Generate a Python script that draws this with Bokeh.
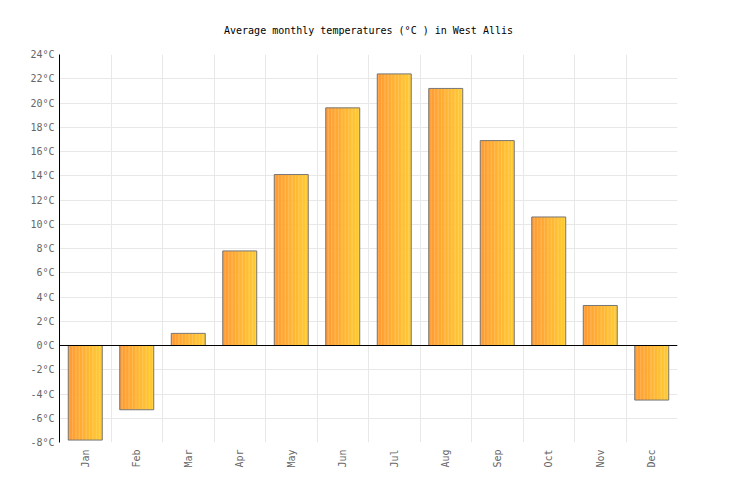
from bokeh.plotting import figure
from bokeh.models import FixedTicker, PrintfTickFormatter, Span, Grid, ColumnDataSource
from bokeh.transform import dodge
from bokeh.embed import file_html
from bokeh.resources import INLINE
import numpy as np

months = ["Jan", "Feb", "Mar", "Apr", "May", "Jun", "Jul", "Aug", "Sep", "Oct", "Nov", "Dec"]
temps = [-7.8, -5.3, 1.0, 7.8, 14.1, 19.6, 22.4, 21.2, 16.9, 10.6, 3.3, -4.5]
y_ticks = list(range(-8, 26, 2))

FONT = "DejaVu Sans Mono"

p = figure(width=736, height=500, x_range=months, y_range=(-8, 24),
           output_backend="svg", toolbar_location=None,
           title="Average monthly temperatures (°C ) in West Allis",
           min_border_left=59, min_border_right=59, min_border_top=54, min_border_bottom=58)
p.x_range.range_padding = 0
p.title.align = "center"
p.title.text_font = FONT
p.title.text_font_size = "10px"
p.title.text_font_style = "normal"
p.title.text_color = "#000000"
p.title.standoff = 38
p.outline_line_color = None

source = ColumnDataSource(dict(month=months, temp=temps))

# gradient approximation with narrow stripes
bar_w = 0.66
n = 24
c0 = np.array([0xFF, 0x99, 0x33])
c1 = np.array([0xFF, 0xCC, 0x33])
sw = bar_w / n
for i in range(n):
    t = (i + 0.5) / n
    c = (c0 + (c1 - c0) * t).round().astype(int)
    col = "#%02x%02x%02x" % tuple(c)
    off = -bar_w / 2 + sw * (i + 0.5)
    p.vbar(x=dodge("month", off, range=p.x_range), top="temp", bottom=0, width=sw * 1.15,
           source=source, fill_color=col, line_color=None)
p.vbar(x="month", top="temp", bottom=0, width=bar_w, source=source,
       fill_color=None, line_color="#777777", line_width=1)

p.add_layout(Span(location=0, dimension="width", line_color="#000000", line_width=1))

# grids
p.xgrid.visible = False
p.ygrid.ticker = FixedTicker(ticks=y_ticks)
p.ygrid.grid_line_color = "#e8e8e8"
vg = Grid(dimension=0, ticker=FixedTicker(ticks=list(range(0, len(months) + 1))),
          grid_line_color="#e8e8e8")
p.add_layout(vg)

p.yaxis.ticker = FixedTicker(ticks=y_ticks)
p.yaxis.formatter = PrintfTickFormatter(format="%d°C")
p.yaxis.axis_line_color = "#000000"
p.yaxis.major_tick_line_color = None
p.yaxis.minor_tick_line_color = None
p.yaxis.major_tick_out = 0
p.yaxis.major_label_standoff = 5
p.xaxis.axis_line_color = None
p.xaxis.major_tick_line_color = None
p.xaxis.major_tick_out = 0
p.xaxis.major_label_orientation = np.pi / 2
p.xaxis.major_label_standoff = 7
for ax in (p.xaxis, p.yaxis):
    ax.major_label_text_font = FONT
    ax.major_label_text_font_size = "10px"
    ax.major_label_text_color = "#666666"

open("out.html", "w").write(file_html(p, INLINE))
